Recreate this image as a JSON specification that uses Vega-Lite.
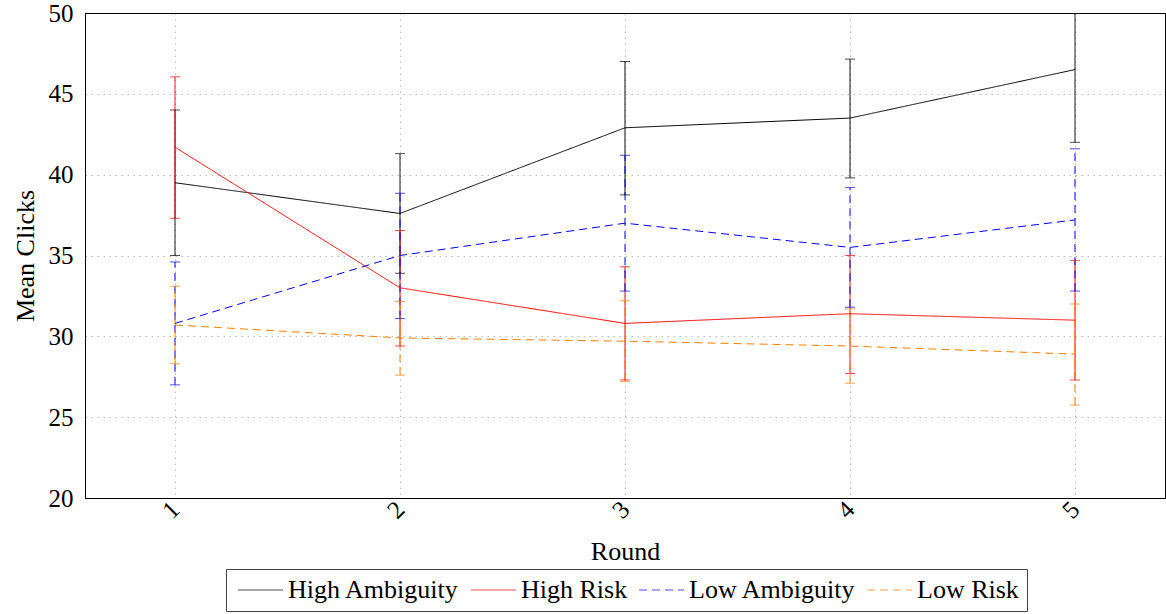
{
  "$schema": "https://vega.github.io/schema/vega-lite/v6.json",
  "width": 1080,
  "height": 485,
  "autosize": {"type": "none"},
  "padding": {"left": 85, "top": 13, "right": 1, "bottom": 116},
  "config": {
    "font": "Liberation Serif",
    "view": {"stroke": "black", "strokeWidth": 1},
    "axis": {
      "domainColor": "black",
      "gridColor": "#b8b8b8",
      "gridDash": [1.5, 4.5],
      "gridWidth": 1,
      "ticks": false,
      "labelFont": "Liberation Serif",
      "labelFontSize": 25,
      "labelColor": "black",
      "titleFont": "Liberation Serif",
      "titleFontSize": 26,
      "titleFontWeight": "normal",
      "titleColor": "black"
    },
    "legend": {
      "labelFont": "Liberation Serif",
      "labelLimit": 0
    }
  },
  "data": {
    "values": [
      {"series": "High Ambiguity", "round": 1, "mean": 39.5, "lo": 35.0, "hi": 44.0},
      {"series": "High Ambiguity", "round": 2, "mean": 37.6, "lo": 33.9, "hi": 41.3},
      {"series": "High Ambiguity", "round": 3, "mean": 42.9, "lo": 38.75, "hi": 47.0},
      {"series": "High Ambiguity", "round": 4, "mean": 43.5, "lo": 39.8, "hi": 47.15},
      {"series": "High Ambiguity", "round": 5, "mean": 46.5, "lo": 42.0, "hi": 51.0},
      {"series": "High Risk", "round": 1, "mean": 41.7, "lo": 37.3, "hi": 46.05},
      {"series": "High Risk", "round": 2, "mean": 33.0, "lo": 29.4, "hi": 36.55},
      {"series": "High Risk", "round": 3, "mean": 30.8, "lo": 27.3, "hi": 34.3},
      {"series": "High Risk", "round": 4, "mean": 31.4, "lo": 27.7, "hi": 35.0},
      {"series": "High Risk", "round": 5, "mean": 31.0, "lo": 27.3, "hi": 34.7},
      {"series": "Low Ambiguity", "round": 1, "mean": 30.8, "lo": 27.0, "hi": 34.6},
      {"series": "Low Ambiguity", "round": 2, "mean": 35.0, "lo": 31.1, "hi": 38.85},
      {"series": "Low Ambiguity", "round": 3, "mean": 37.0, "lo": 32.8, "hi": 41.2},
      {"series": "Low Ambiguity", "round": 4, "mean": 35.5, "lo": 31.8, "hi": 39.2},
      {"series": "Low Ambiguity", "round": 5, "mean": 37.2, "lo": 32.8, "hi": 41.6},
      {"series": "Low Risk", "round": 1, "mean": 30.7, "lo": 28.3, "hi": 33.1},
      {"series": "Low Risk", "round": 2, "mean": 29.9, "lo": 27.6, "hi": 32.15},
      {"series": "Low Risk", "round": 3, "mean": 29.7, "lo": 27.2, "hi": 32.2},
      {"series": "Low Risk", "round": 4, "mean": 29.4, "lo": 27.1, "hi": 31.7},
      {"series": "Low Risk", "round": 5, "mean": 28.9, "lo": 25.75, "hi": 32.0}
    ]
  },
  "encoding": {
    "x": {
      "field": "round",
      "type": "quantitative",
      "scale": {"domain": [0.6, 5.4], "nice": false, "zero": false},
      "axis": {
        "title": "Round",
        "values": [1, 2, 3, 4, 5],
        "labelFont": "Liberation Serif",
        "labelAngle": -45,
        "labelAlign": "right",
        "labelBaseline": "middle",
        "labelPadding": 7,
        "titlePadding": 15,
        "grid": true
      }
    },
    "color": {
      "field": "series",
      "type": "nominal",
      "scale": {
        "domain": ["High Ambiguity", "High Risk", "Low Ambiguity", "Low Risk"],
        "range": ["#000000", "#ff0000", "#0000ff", "#ff8000"]
      },
      "legend": {
        "title": null,
        "orient": "none",
        "legendX": 141,
        "legendY": 556,
        "direction": "horizontal",
        "symbolType": "M-1,0H4",
        "symbolSize": 324,
        "symbolStrokeWidth": 1,
        "labelFont": "Liberation Serif",
        "labelFontSize": 26,
        "labelLimit": 0,
        "labelColor": "black",
        "labelOffset": 28,
        "columnPadding": 7,
        "padding": 8,
        "strokeColor": "#444444",
        "fillColor": "white"
      }
    },
    "strokeDash": {
      "field": "series",
      "type": "nominal",
      "scale": {
        "domain": ["High Ambiguity", "High Risk", "Low Ambiguity", "Low Risk"],
        "range": [[1, 0], [1, 0], [8, 5], [8, 5]]
      },
      "legend": {
        "title": null,
        "orient": "none",
        "legendX": 141,
        "legendY": 556,
        "direction": "horizontal",
        "symbolType": "M-1,0H4",
        "symbolSize": 324,
        "symbolStrokeWidth": 1,
        "labelFont": "Liberation Serif",
        "labelFontSize": 26,
        "labelLimit": 0,
        "labelColor": "black",
        "labelOffset": 28,
        "columnPadding": 7,
        "padding": 8,
        "strokeColor": "#444444",
        "fillColor": "white"
      }
    }
  },
  "layer": [
    {
      "mark": {"type": "rule", "clip": true, "strokeWidth": 1},
      "encoding": {
        "y": {
          "field": "lo",
          "type": "quantitative",
          "scale": {"domain": [20, 50], "nice": false, "zero": false},
          "axis": {
            "title": "Mean Clicks",
            "values": [20, 25, 30, 35, 40, 45, 50],
            "labelFont": "Liberation Serif",
            "labelPadding": 12,
            "titlePadding": 10,
            "grid": true,
            "gridColor": {"condition": {"test": "datum.value >= 50", "value": "black"}, "value": "#b8b8b8"},
            "gridDash": {"condition": {"test": "datum.value >= 50", "value": [1, 0]}, "value": [1.5, 4.5]}
          }
        },
        "y2": {"field": "hi"}
      }
    },
    {
      "mark": {"type": "tick", "orient": "horizontal", "size": 10, "thickness": 1, "clip": true},
      "encoding": {"y": {"field": "lo", "type": "quantitative"}}
    },
    {
      "mark": {"type": "tick", "orient": "horizontal", "size": 10, "thickness": 1, "clip": true},
      "encoding": {"y": {"field": "hi", "type": "quantitative"}}
    },
    {
      "mark": {"type": "line", "strokeWidth": 1, "clip": true},
      "encoding": {"y": {"field": "mean", "type": "quantitative"}}
    }
  ]
}
